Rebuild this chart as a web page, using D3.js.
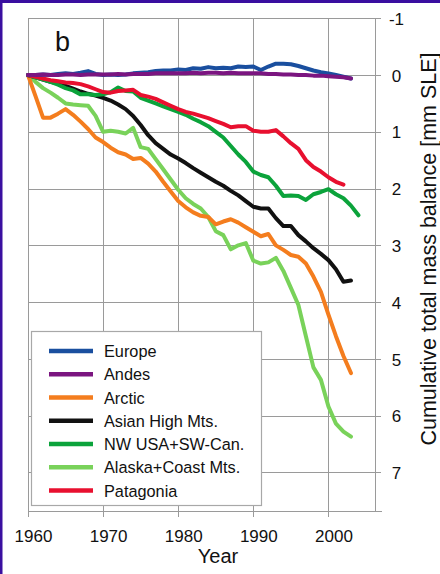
<!DOCTYPE html>
<html><head><meta charset="utf-8">
<script src="https://cdn.jsdelivr.net/npm/d3@7"></script>
<style>
html,body{margin:0;padding:0;background:#fff;}
svg{display:block;font-family:"Liberation Sans",Arial,sans-serif;}
</style></head>
<body>
<svg id="chart" width="440" height="574"></svg>
<script>
const years = [1960,1961,1962,1963,1964,1965,1966,1967,1968,1969,1970,1971,1972,1973,1974,1975,1976,1977,1978,1979,1980,1981,1982,1983,1984,1985,1986,1987,1988,1989,1990,1991,1992,1993,1994,1995,1996,1997,1998,1999,2000,2001,2002,2003,2004];
const europe = [0,0,-0.01,0,-0.02,-0.03,-0.02,-0.04,-0.07,-0.02,0,-0.01,0,-0.01,-0.03,-0.04,-0.05,-0.07,-0.08,-0.08,-0.1,-0.09,-0.12,-0.11,-0.14,-0.12,-0.13,-0.12,-0.15,-0.14,-0.15,-0.09,-0.15,-0.2,-0.2,-0.19,-0.16,-0.12,-0.08,-0.05,-0.03,0,0.03,0.06];
const andes = [0,0,-0.01,0,0,-0.01,-0.01,0,-0.01,-0.01,-0.01,-0.01,-0.02,-0.01,-0.02,-0.02,-0.02,-0.03,-0.03,-0.03,-0.03,-0.03,-0.04,-0.03,-0.04,-0.04,-0.03,-0.04,-0.03,-0.03,-0.03,-0.03,-0.02,-0.02,-0.01,-0.01,0,0,0.01,0.01,0.02,0.03,0.04,0.06];
const arctic = [0,0.37,0.75,0.75,0.68,0.6,0.7,0.82,0.95,1.1,1.18,1.28,1.36,1.4,1.48,1.46,1.56,1.7,1.88,2.05,2.22,2.33,2.42,2.48,2.5,2.63,2.58,2.54,2.6,2.68,2.76,2.84,2.8,3.0,3.08,3.17,3.2,3.32,3.55,3.82,4.22,4.6,4.95,5.25];
const asian = [0,0.04,0.08,0.12,0.15,0.19,0.24,0.29,0.33,0.36,0.4,0.45,0.52,0.6,0.72,0.88,1.06,1.2,1.3,1.4,1.47,1.55,1.64,1.72,1.8,1.88,1.95,2.04,2.12,2.22,2.32,2.35,2.35,2.52,2.66,2.66,2.82,2.93,3.05,3.15,3.26,3.42,3.64,3.62];
const nwusa = [0,0.04,0.08,0.12,0.17,0.23,0.27,0.34,0.34,0.35,0.34,0.3,0.22,0.28,0.29,0.4,0.45,0.5,0.55,0.6,0.65,0.7,0.77,0.83,0.9,1.0,1.1,1.25,1.4,1.53,1.7,1.76,1.8,1.95,2.13,2.12,2.13,2.2,2.1,2.06,2.01,2.1,2.17,2.3,2.47];
const alaska = [0,0.12,0.23,0.31,0.4,0.5,0.52,0.53,0.54,0.72,1.0,0.98,1.0,1.03,0.93,1.27,1.3,1.48,1.66,1.84,2.02,2.17,2.27,2.35,2.5,2.75,2.82,3.07,3.0,2.96,3.27,3.32,3.3,3.22,3.45,3.75,4.05,4.6,5.15,5.37,5.84,6.14,6.28,6.37];
const patagonia = [0,0.03,0.06,0.09,0.11,0.13,0.14,0.16,0.2,0.25,0.3,0.31,0.28,0.27,0.26,0.35,0.38,0.42,0.48,0.54,0.6,0.65,0.68,0.72,0.76,0.81,0.86,0.92,0.9,0.9,0.98,1.0,1.0,0.97,1.08,1.2,1.3,1.5,1.62,1.7,1.8,1.88,1.93];

const seriesNames = ["Europe","Andes","Arctic","Asian High Mts.","NW USA+SW-Can.","Alaska+Coast Mts.","Patagonia"];
const seriesValues = [europe, andes, arctic, asian, nwusa, alaska, patagonia];
const seriesColors = ["#1a4f9f","#7b1580","#f47d1e","#111111","#0ba33b","#79d25a","#e8102f"];
const drawOrder = [5,2,3,4,6,0,1];

const xTicks = [1960,1970,1980,1990,2000];
const yTicks = [-1,0,1,2,3,4,5,6,7];

const svg = d3.select("#chart");
const W = 440, H = 574;
const L = 28, R = 375, T = 18.3, B = 511;

const x = d3.scaleLinear().domain([1960, 2006.2]).range([L, R]);
const y = d3.scaleLinear().domain([-1, 7.68]).range([T, B]);

// frame
svg.append("rect").attr("x",0).attr("y",0).attr("width",W).attr("height",H).attr("fill","#fff");
svg.append("rect").attr("x",0).attr("y",0).attr("width",W).attr("height",3).attr("fill","#3a0fa0");
svg.append("rect").attr("x",0).attr("y",0).attr("width",2.5).attr("height",H).attr("fill","#3a0fa0");

const grid = svg.append("g").attr("stroke","#9a9a9a").attr("stroke-width",1).attr("shape-rendering","crispEdges");
grid.selectAll("line.h").data(yTicks).join("line")
  .attr("x1",L).attr("x2",R+6).attr("y1",d=>Math.round(y(d))+0.5).attr("y2",d=>Math.round(y(d))+0.5);
grid.selectAll("line.v").data(xTicks).join("line")
  .attr("x1",d=>Math.round(x(d))+0.5).attr("x2",d=>Math.round(x(d))+0.5).attr("y1",T).attr("y2",B+6);

// right axis
const yAxis = d3.axisRight(y).tickValues(yTicks).tickSize(0).tickPadding(0).tickFormat(d3.format("d"));
const gy = svg.append("g").attr("transform",`translate(${Math.round(R)+0.5},0)`).call(yAxis);
gy.select(".domain").attr("stroke","#9a9a9a").attr("d",`M0,${T}V${B}`);
gy.selectAll("text").attr("x",21).attr("dy","0.36em").attr("text-anchor","middle")
  .attr("font-size",17).attr("fill","#111").attr("font-family","'Liberation Sans',Arial,sans-serif")
  .text(d => d < 0 ? "-" + Math.abs(d) : d);

// bottom axis
const xAxis = d3.axisBottom(x).tickValues(xTicks).tickSize(0).tickPadding(0).tickFormat(d3.format("d"));
const gx = svg.append("g").attr("transform",`translate(0,${Math.round(B)+0.5})`).call(xAxis);
gx.select(".domain").attr("stroke","#9a9a9a").attr("d",`M${L},0H${R+7}`);
gx.selectAll("text").attr("y",30).attr("dx",5).attr("dy",0).attr("font-size",17).attr("fill","#111")
  .attr("font-family","'Liberation Sans',Arial,sans-serif");

// titles
svg.append("text").attr("x",218).attr("y",563).attr("text-anchor","middle")
  .attr("font-size",20).attr("fill","#111").text("Year");
svg.append("text").attr("transform","translate(436,249) rotate(-90)").attr("text-anchor","middle")
  .attr("font-size",21.5).attr("fill","#111").text("Cumulative total mass balance [mm SLE]");
svg.append("text").attr("x",55).attr("y",51).attr("font-size",27).attr("fill","#111").text("b");

// lines
const line = d3.line().x((d,i)=>x(years[i])).y(d=>y(d));
const lg = svg.append("g").attr("fill","none").attr("stroke-width",4).attr("stroke-linejoin","round").attr("stroke-linecap","round");
drawOrder.forEach(k => {
  lg.append("path").datum(seriesValues[k]).attr("stroke",seriesColors[k]).attr("d",line);
});

// legend
const leg = svg.append("g");
leg.append("rect").attr("x",31.5).attr("y",331.5).attr("width",230).attr("height",174)
  .attr("fill","#fff").attr("stroke","#a8a8a8").attr("stroke-width",1.2);
const rowY = d3.scaleLinear().domain([0,6]).range([351,490.5]);
seriesNames.forEach((n,i) => {
  leg.append("line").attr("x1",49).attr("x2",93).attr("y1",rowY(i)).attr("y2",rowY(i))
    .attr("stroke",seriesColors[i]).attr("stroke-width",4.5);
  leg.append("text").attr("x",104).attr("y",rowY(i)+6).attr("font-size",16.3).attr("fill","#111").text(n);
});
</script>
</body></html>
